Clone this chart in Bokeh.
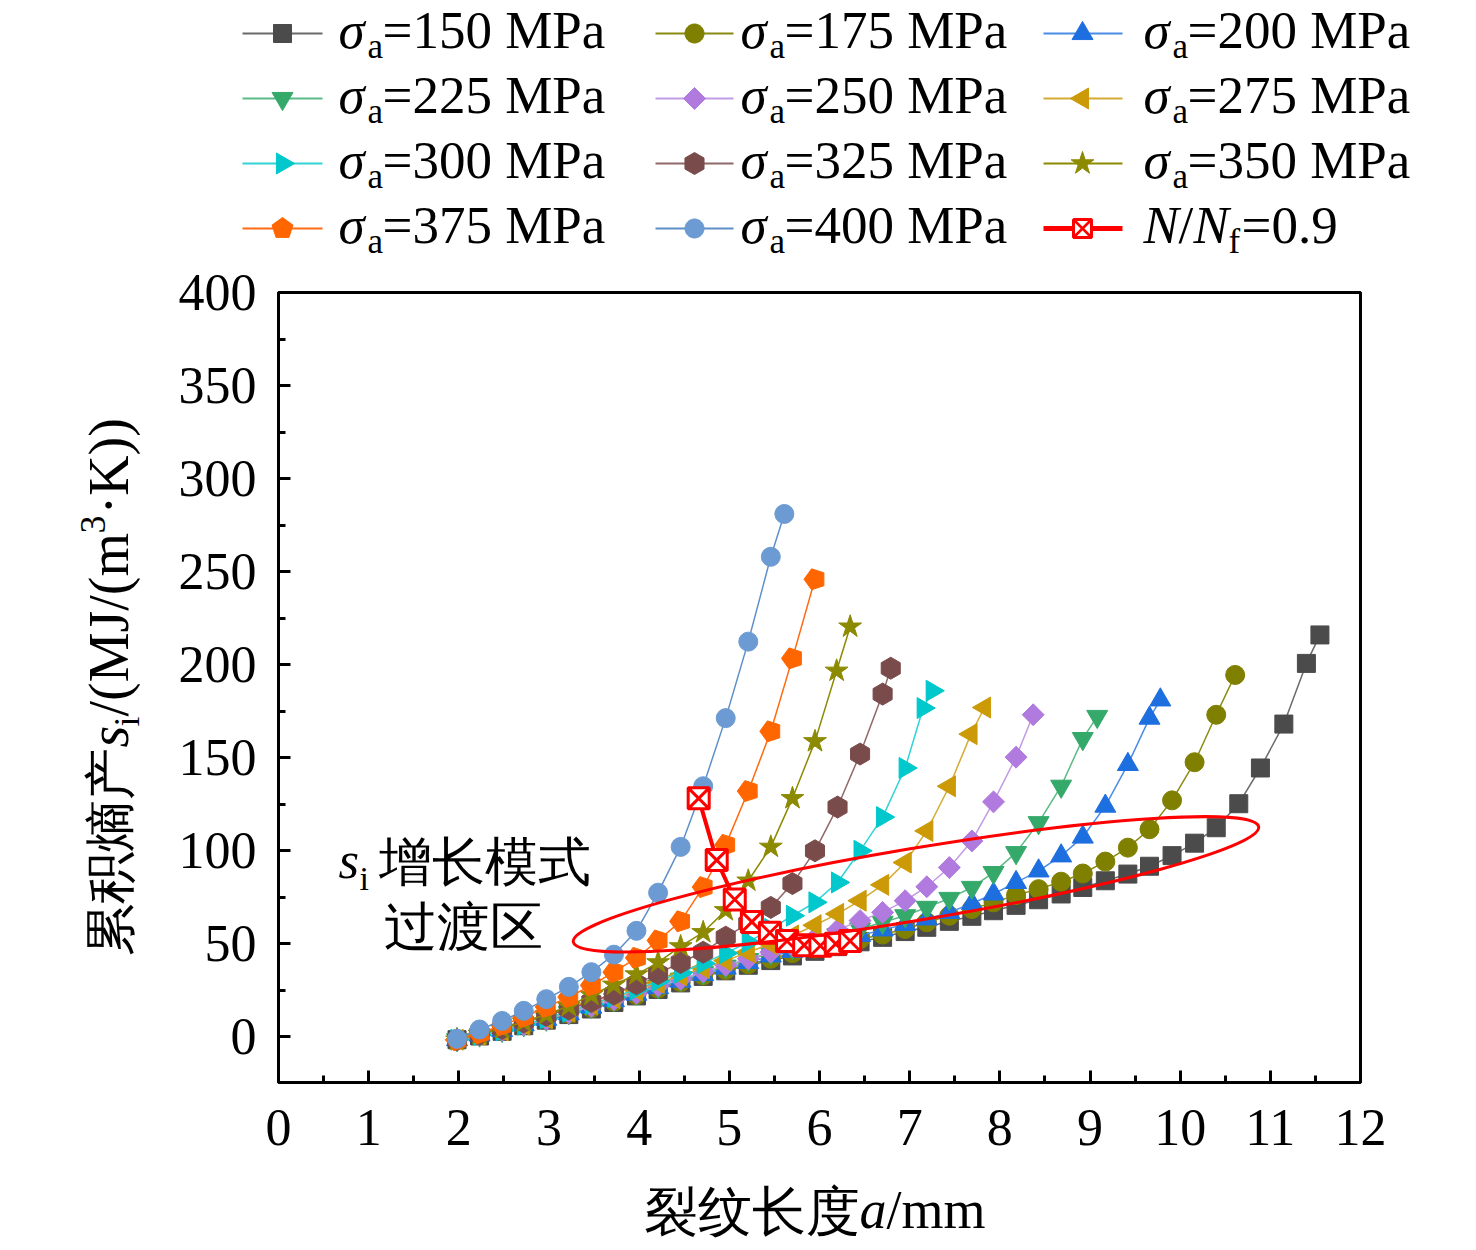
import numpy as np
from bokeh.plotting import figure
from bokeh.models import Range1d, FixedTicker
from bokeh.core.properties import value
from bokeh.embed import file_html
from bokeh.resources import INLINE

SERIF = "Liberation Serif"

# ---------------- data ----------------
stress_levels = [150, 175, 200, 225, 250, 275, 300, 325, 350, 375, 400]

a150 = [1.98, 2.23, 2.48, 2.72, 2.97, 3.22, 3.47, 3.72, 3.97, 4.21, 4.46, 4.71, 4.96, 5.21, 5.46, 5.70, 5.95, 6.20, 6.45, 6.70,
        6.95, 7.19, 7.44, 7.69, 7.93, 8.18, 8.43, 8.68, 8.92, 9.17, 9.42, 9.66, 9.91, 10.16, 10.40, 10.65, 10.89, 11.15, 11.40, 11.55]
s150 = [-1.5, 0.5, 3.0, 6.0, 9.0, 12.0, 15.0, 18.5, 22.0, 25.5, 29.0, 32.5, 35.5, 38.5, 41.0, 43.5, 46.0, 48.5, 51.1, 53.5,
        56.6, 58.9, 62.1, 64.8, 67.8, 70.7, 73.7, 76.8, 80.3, 83.9, 87.5, 91.7, 97.4, 104.1, 112.4, 125.3, 144.5, 168.1, 200.7, 216.0]

a175 = [1.98, 2.23, 2.48, 2.72, 2.97, 3.22, 3.47, 3.72, 3.97, 4.21, 4.46, 4.71, 4.96, 5.21, 5.46, 5.70, 5.95, 6.20, 6.45, 6.70,
        6.95, 7.19, 7.44, 7.69, 7.93, 8.18, 8.43, 8.68, 8.92, 9.17, 9.42, 9.66, 9.91, 10.16, 10.40, 10.61]
s175 = [-1.5, 1.0, 3.5, 6.5, 9.5, 12.5, 15.5, 19.0, 22.5, 26.0, 29.5, 33.0, 36.0, 39.0, 42.0, 45.0, 47.5, 50.0, 52.5, 55.0,
        58.0, 61.6, 65.1, 68.7, 72.3, 76.2, 79.4, 83.4, 87.8, 94.2, 101.7, 111.6, 127.1, 147.6, 173.1, 194.5]

a200 = [1.98, 2.23, 2.48, 2.72, 2.97, 3.22, 3.47, 3.72, 3.97, 4.21, 4.46, 4.71, 4.96, 5.21, 5.46, 5.70, 5.95, 6.20, 6.45, 6.70,
        6.95, 7.19, 7.44, 7.69, 7.93, 8.18, 8.43, 8.68, 8.92, 9.17, 9.42, 9.66, 9.78]
s200 = [-1.5, 1.0, 3.5, 6.5, 9.5, 12.5, 16.0, 19.5, 23.0, 26.5, 30.0, 33.5, 37.0, 40.0, 43.5, 46.0, 49.0, 52.0, 54.5, 57.5,
        60.5, 63.4, 66.9, 71.7, 76.8, 83.0, 89.2, 97.3, 107.4, 124.0, 146.4, 171.3, 181.1]

a225 = [1.98, 2.23, 2.48, 2.72, 2.97, 3.22, 3.47, 3.72, 3.97, 4.21, 4.46, 4.71, 4.96, 5.21, 5.46, 5.70, 5.95, 6.20, 6.45, 6.70,
        6.95, 7.19, 7.44, 7.69, 7.93, 8.18, 8.43, 8.68, 8.92, 9.08]
s225 = [-1.5, 1.0, 3.5, 6.5, 9.5, 13.0, 16.5, 20.0, 23.5, 27.0, 31.0, 34.5, 38.0, 41.5, 45.0, 48.0, 51.5, 55.0, 58.0, 61.6,
        65.1, 69.6, 74.4, 80.3, 88.3, 99.0, 115.1, 134.7, 160.3, 172.2]

a250 = [1.98, 2.23, 2.48, 2.72, 2.97, 3.22, 3.47, 3.72, 3.97, 4.21, 4.46, 4.71, 4.96, 5.21, 5.46, 5.70, 5.95, 6.20, 6.45, 6.70,
        6.95, 7.19, 7.44, 7.69, 7.93, 8.18, 8.37]
s250 = [-1.5, 1.0, 3.5, 6.5, 9.5, 13.0, 16.5, 20.0, 23.5, 27.5, 31.0, 35.0, 38.5, 42.0, 45.5, 49.0, 53.0, 57.5, 62.5, 66.9,
        73.2, 80.7, 91.0, 105.3, 126.3, 150.3, 173.1]

a275 = [1.98, 2.23, 2.48, 2.72, 2.97, 3.22, 3.47, 3.72, 3.97, 4.21, 4.46, 4.71, 4.96, 5.21, 5.46, 5.70, 5.95, 6.20, 6.45, 6.70,
        6.95, 7.19, 7.44, 7.68, 7.83]
s275 = [-1.5, 1.0, 3.5, 6.5, 10.0, 13.5, 17.5, 21.0, 25.0, 29.0, 33.0, 37.0, 41.0, 45.5, 50.0, 54.5, 60.0, 66.1, 73.2, 81.7,
        93.7, 110.7, 134.7, 162.7, 177.0]

a300 = [1.98, 2.23, 2.48, 2.72, 2.97, 3.22, 3.47, 3.72, 3.97, 4.21, 4.46, 4.71, 4.96, 5.21, 5.46, 5.70, 5.95, 6.20, 6.45, 6.70,
        6.95, 7.15, 7.25]
s300 = [-1.5, 1.0, 3.5, 6.5, 10.0, 13.5, 17.5, 21.5, 25.5, 30.0, 34.5, 39.5, 45.0, 50.9, 58.0, 65.1, 72.3, 83.0, 100.0, 118.1,
        144.5, 176.7, 186.0]

a325 = [1.98, 2.23, 2.48, 2.72, 2.97, 3.22, 3.47, 3.72, 3.97, 4.21, 4.46, 4.71, 4.96, 5.21, 5.46, 5.70, 5.95, 6.20, 6.45, 6.70,
        6.79]
s325 = [-1.5, 1.5, 4.5, 8.0, 11.5, 15.0, 19.0, 23.0, 28.5, 34.0, 40.0, 45.5, 53.6, 61.0, 69.6, 82.4, 100.0, 123.5, 152.0, 184.2,
        198.1]

a350 = [1.98, 2.23, 2.48, 2.72, 2.97, 3.22, 3.47, 3.72, 3.97, 4.21, 4.46, 4.71, 4.96, 5.21, 5.46, 5.70, 5.95, 6.19, 6.34]
s350 = [-1.5, 1.5, 4.5, 8.0, 12.0, 16.5, 22.5, 28.0, 33.5, 40.0, 48.6, 56.2, 68.0, 83.9, 102.1, 128.2, 158.8, 196.7, 220.4]

a375 = [1.98, 2.23, 2.48, 2.72, 2.97, 3.22, 3.47, 3.72, 3.97, 4.21, 4.46, 4.71, 4.96, 5.21, 5.46, 5.70, 5.95]
s375 = [-1.8, 1.8, 6.3, 10.7, 16.1, 21.4, 27.7, 34.8, 42.5, 51.8, 62.1, 80.5, 103.2, 132.1, 164.2, 203.4, 245.9]

a400 = [1.98, 2.23, 2.48, 2.72, 2.97, 3.22, 3.47, 3.72, 3.97, 4.21, 4.46, 4.71, 4.96, 5.21, 5.46, 5.61]
s400 = [-1.0, 4.0, 8.6, 14.0, 20.3, 26.9, 34.8, 44.2, 57.0, 77.5, 102.1, 134.7, 171.3, 212.4, 258.0, 281.0]

# points at N/Nf = 0.9
nf_a = [4.66, 4.86, 5.06, 5.25, 5.45, 5.64, 5.83, 6.01, 6.18, 6.34]
nf_s = [128.2, 95.0, 73.8, 61.8, 56.0, 51.5, 49.3, 49.0, 50.0, 51.5]

x_ticks = [0, 1, 2, 3, 4, 5, 6, 7, 8, 9, 10, 11, 12]
x_minor = [0.5, 1.5, 2.5, 3.5, 4.5, 5.5, 6.5, 7.5, 8.5, 9.5, 10.5, 11.5]
y_ticks = [0, 50, 100, 150, 200, 250, 300, 350, 400]
y_minor = [25, 75, 125, 175, 225, 275, 325, 375]

# transition-zone ellipse (centre in data units, size in screen pixels)
ell_center = (7.07, 82.0)

series_data = {
    150: (a150, s150), 175: (a175, s175), 200: (a200, s200), 225: (a225, s225),
    250: (a250, s250), 275: (a275, s275), 300: (a300, s300), 325: (a325, s325),
    350: (a350, s350), 375: (a375, s375), 400: (a400, s400),
}

# ---------------- styles ----------------
styles = {
    150: dict(marker="square", size=18, angle=0.0, fill="#4b4b4b", line="#6a6a6a"),
    175: dict(marker="circle", size=19, angle=0.0, fill="#7f7f00", line="#8a8a10"),
    200: dict(marker="triangle", size=21, angle=0.0, fill="#1d6fe0", line="#4a8ce6"),
    225: dict(marker="inverted_triangle", size=21, angle=0.0, fill="#35a96a", line="#5bba85"),
    250: dict(marker="square", size=15.5, angle=np.pi / 4, fill="#b07ade", line="#c29be6"),
    275: dict(marker="triangle", size=21, angle=np.pi / 2, fill="#cc9a06", line="#d6ab35"),
    300: dict(marker="triangle", size=21, angle=-np.pi / 2, fill="#00c8cc", line="#33d2d5"),
    325: dict(marker="hex", size=22, angle=np.pi / 2, fill="#7a4b4b", line="#906868"),
    350: dict(marker="star", size=24, angle=0.0, fill="#8c8a00", line="#8c8a00"),
    375: dict(marker="pentagon", size=11, angle=np.pi / 2, fill="#ff6600", line="#ff6a10"),
    400: dict(marker="circle", size=19, angle=0.0, fill="#6b9bd2", line="#5f8fc8"),
}
legend_shapes = {150: "square", 175: "circle", 200: "tri_up", 225: "tri_down", 250: "diamond",
                 275: "tri_left", 300: "tri_right", 325: "hex", 350: "star", 375: "pentagon", 400: "circle"}
RED = "#ff0000"

W, H = 1476, 1250
FL, FR, FT, FB = 278, 1360, 292, 1082      # frame edges in canvas pixels
X0, X1 = 0.0, 12.0
Y0, Y1 = -24.5, 400.0


def dx(px):
    return X0 + (px - FL) / (FR - FL) * (X1 - X0)


def dy(py):
    return Y0 + (FB - py) / (FB - FT) * (Y1 - Y0)


def draw_marker(fig, xs, ys, st):
    if st["marker"] == "pentagon":
        try:
            fig.ngon(x=xs, y=ys, radius=st["size"], radius_units="screen", n=5, angle=st["angle"],
                     fill_color=st["fill"], line_color=st["fill"])
            return
        except Exception:
            fig.scatter(xs, ys, marker="hex", size=22, fill_color=st["fill"], line_color=st["fill"])
            return
    fig.scatter(xs, ys, marker=st["marker"], size=st["size"], angle=st["angle"],
                fill_color=st["fill"], line_color=st["fill"], line_width=1)


def shape_vertices(kind):
    """Legend symbol outline, in screen pixels relative to its centre (y down)."""
    s3 = np.sqrt(3.0)
    if kind == "square":
        h = 9.0
        return [(-h, -h), (h, -h), (h, h), (-h, h)]
    if kind == "circle":
        t = np.linspace(0, 2 * np.pi, 40, endpoint=False)
        return list(zip(9.5 * np.cos(t), 9.5 * np.sin(t)))
    r = 10.5
    hh = r * s3
    a = hh / 3
    if kind == "tri_up":
        return [(-r, a), (r, a), (0, a - hh)]
    if kind == "tri_down":
        return [(-r, -a), (r, -a), (0, hh - a)]
    if kind == "tri_left":
        return [(a, -r), (a, r), (a - hh, 0)]
    if kind == "tri_right":
        return [(-a, -r), (-a, r), (hh - a, 0)]
    if kind == "diamond":
        d = 11.0
        return [(0, -d), (d, 0), (0, d), (-d, 0)]
    if kind == "hex":
        t = np.deg2rad(-90 + 60 * np.arange(6))
        return list(zip(11 * np.cos(t), 11 * np.sin(t)))
    if kind == "pentagon":
        t = np.deg2rad(-90 + 72 * np.arange(5))
        return list(zip(11 * np.cos(t), 11 * np.sin(t)))
    if kind == "star":
        t = np.deg2rad(-90 + 36 * np.arange(10))
        rr = np.where(np.arange(10) % 2 == 0, 12.0, 12.0 * 0.382)
        return list(zip(rr * np.cos(t), rr * np.sin(t)))
    raise ValueError(kind)


p = figure(width=W, height=H, x_range=Range1d(X0, X1), y_range=Range1d(Y0, Y1),
           output_backend="svg", toolbar_location=None,
           min_border_left=FL, min_border_right=W - FR, min_border_top=FT, min_border_bottom=H - FB)
p.grid.visible = False
p.background_fill_color = "white"
p.border_fill_color = "white"
p.outline_line_color = "black"
p.outline_line_width = 3

for ax in (p.xaxis[0], p.yaxis[0]):
    ax.axis_line_width = 3
    ax.axis_line_color = "black"
    ax.major_tick_in = 12
    ax.major_tick_out = 0
    ax.minor_tick_in = 7
    ax.minor_tick_out = 0
    ax.major_tick_line_width = 3
    ax.minor_tick_line_width = 3
    ax.major_tick_line_color = "black"
    ax.minor_tick_line_color = "black"
    ax.major_label_text_font = SERIF
    ax.major_label_text_font_size = "52px"
    ax.major_label_text_color = "black"
    ax.major_label_text_font_style = "normal"
p.xaxis[0].ticker = FixedTicker(ticks=x_ticks, minor_ticks=x_minor)
p.yaxis[0].ticker = FixedTicker(ticks=y_ticks, minor_ticks=y_minor)
p.xaxis[0].major_label_standoff = 27
p.yaxis[0].major_label_standoff = 22

for lvl in stress_levels:
    xs, ys = series_data[lvl]
    st = styles[lvl]
    p.line(xs, ys, line_color=st["line"], line_width=1.5)
    draw_marker(p, xs, ys, st)

p.line(nf_a, nf_s, line_color=RED, line_width=4)
p.scatter(nf_a, nf_s, marker="square_x", size=21, fill_color="white", line_color=RED, line_width=3)

p.ellipse(x=[ell_center[0]], y=[ell_center[1]], width=[695], height=[72], angle=[0.1665],
          width_units="screen", height_units="screen", fill_color=None, line_color=RED, line_width=3)


def txt(px, py, text, size, style="normal", angle=0.0):
    """Place text so that its alphabetic baseline sits at (px, py) canvas pixels."""
    lift = 0.34 * size
    if angle == 0.0:
        x, y = dx(px), dy(py - lift)
    else:
        x, y = dx(px - lift), dy(py)
    p.text(x=[x], y=[y], text=[text], angle=angle,
           text_font=value(SERIF), text_font_size=f"{size}px", text_font_style=style,
           text_align="left", text_baseline="middle", text_color="black", level="overlay")


def symbol(cx, cy, kind, fill, line=None, lw=1.0):
    verts = shape_vertices(kind)
    xs = [dx(cx + vx) for vx, vy in verts]
    ys = [dy(cy + vy) for vx, vy in verts]
    p.patch(xs, ys, fill_color=fill, line_color=line or fill, line_width=lw, level="overlay")


# annotation inside plot
txt(338, 878, "s", 53, "italic")
txt(359, 890, "i", 34)
txt(378, 880, "增长模式", 53)
txt(383, 945, "过渡区", 53)

# x axis title
txt(643, 1230, "裂纹长度", 54)
txt(859, 1228, "a", 54, "italic")
txt(886, 1228, "/mm", 54)

# y axis title (rotated)
R = np.pi / 2
txt(128, 955, "累积熵产", 52, angle=R)
txt(128, 747, "s", 56, "italic", angle=R)
txt(139, 726, "i", 36, angle=R)
txt(128, 716, "/(MJ/(m", 56, angle=R)
txt(105, 533, "3", 36, angle=R)
txt(128, 514, "·K))", 56, angle=R)

# ---------------- legend (outside the frame, overlay level) ----------------
col_line = [(242, 322), (655, 733), (1043, 1122)]
col_mark = [282, 694, 1082]
col_text = [338, 740, 1143]
row_base = [48, 113, 178, 243]
order = [150, 175, 200, 225, 250, 275, 300, 325, 350, 375, 400, "nf"]

for k, item in enumerate(order):
    r, c = divmod(k, 3)
    yb = row_base[r]
    ym = yb - 15
    xt = col_text[c]
    xm = col_mark[c]
    if item == "nf":
        p.line([dx(col_line[c][0]), dx(col_line[c][1])], [dy(ym), dy(ym)], line_color=RED, line_width=5, level="overlay")
        symbol(xm, ym, "square", "white", RED, 3)
        p.line([dx(xm - 9), dx(xm + 9)], [dy(ym - 9), dy(ym + 9)], line_color=RED, line_width=2.5, level="overlay")
        p.line([dx(xm - 9), dx(xm + 9)], [dy(ym + 9), dy(ym - 9)], line_color=RED, line_width=2.5, level="overlay")
        txt(xt, yb, "N", 53, "italic")
        txt(xt + 35, yb, "/", 53)
        txt(xt + 50, yb, "N", 53, "italic")
        txt(xt + 85, yb + 10, "f", 35)
        txt(xt + 98, yb, "=0.9", 53)
        continue
    st = styles[item]
    p.line([dx(col_line[c][0]), dx(col_line[c][1])], [dy(ym), dy(ym)], line_color=st["line"], line_width=2,
           level="overlay")
    symbol(xm, ym, legend_shapes[item], st["fill"])
    txt(xt, yb, "σ", 53, "italic")
    txt(xt + 29, yb + 10, "a", 35)
    txt(xt + 44, yb, f"={item} MPa", 53)

open("out.html", "w").write(file_html(p, INLINE))
